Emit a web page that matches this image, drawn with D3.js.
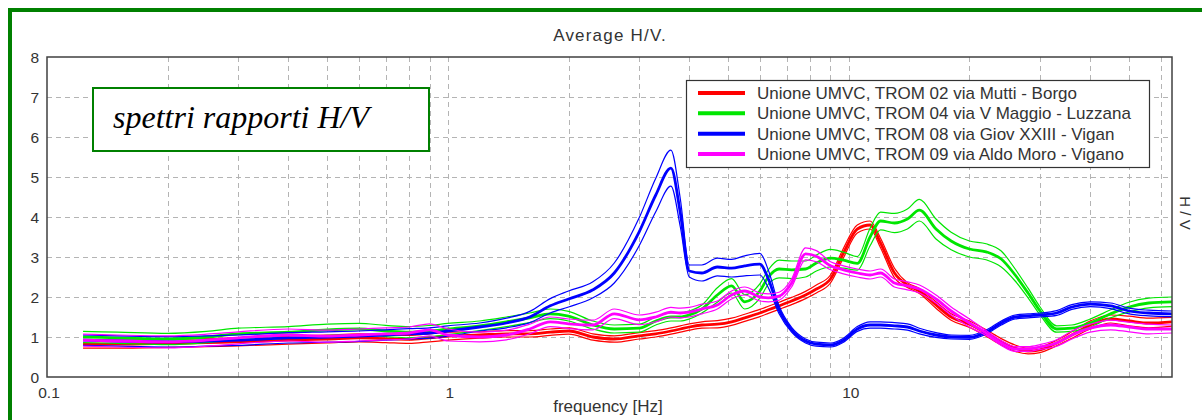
<!DOCTYPE html>
<html>
<head>
<meta charset="utf-8">
<script src="https://cdn.jsdelivr.net/npm/d3@7/dist/d3.min.js"></script>
<style>
  html, body { margin: 0; padding: 0; background: #fff; }
  svg { display: block; }
  text { font-family: "Liberation Sans", Arial, sans-serif; fill: #333; }
</style>
</head>
<body>
<svg id="chart" width="1202" height="420"></svg>
<script>
// Frequency samples (Hz) shared by every station
const freqs = [0.123,0.15,0.2,0.25,0.3,0.4,0.5,0.6,0.7,0.8,0.9,1.0,1.2,1.4,1.6,1.8,2.0,2.3,2.6,3.0,
  3.3,3.6,3.8,4.0,4.3,4.7,5.1,5.5,6.0,6.3,6.7,7.2,7.8,8.3,9.0,9.7,10.5,11.3,12,13,
  14,15,16.5,18,20,22,24,26,28,30,33,36,40,45,50,56,64];

// Average H/V ratio and standard deviation per station
const meanTrom02 = [0.82,0.82,0.84,0.86,0.88,0.92,0.95,0.98,0.96,0.94,0.98,1.02,1.05,1.08,1.08,1.12,1.15,1.0,0.95,1.03,
  1.08,1.15,1.2,1.25,1.3,1.32,1.38,1.48,1.6,1.68,1.78,1.9,2.05,2.2,2.45,3.1,3.7,3.8,3.35,2.6,
  2.3,2.15,1.8,1.5,1.32,1.1,0.88,0.72,0.65,0.68,0.85,1.05,1.3,1.45,1.4,1.35,1.38];
const sdTrom02 = [0.1,0.1,0.1,0.1,0.1,0.1,0.1,0.1,0.1,0.1,0.1,0.1,0.08,0.08,0.08,0.08,0.08,0.08,0.08,0.08,
  0.08,0.08,0.08,0.08,0.08,0.09,0.09,0.09,0.09,0.09,0.09,0.09,0.09,0.1,0.1,0.12,0.1,0.1,0.12,0.12,
  0.06,0.06,0.08,0.08,0.08,0.08,0.08,0.08,0.07,0.07,0.07,0.08,0.1,0.1,0.12,0.12,0.11];

const meanTrom04 = [1.0,0.98,0.95,1.0,1.08,1.12,1.18,1.2,1.15,1.12,1.15,1.2,1.28,1.38,1.48,1.58,1.52,1.3,1.2,1.22,
  1.4,1.5,1.5,1.55,1.7,2.05,2.28,1.88,2.15,2.5,2.7,2.68,2.7,2.85,2.97,2.92,2.84,3.5,3.9,3.85,
  3.95,4.17,3.7,3.4,3.2,3.13,2.95,2.55,2.1,1.65,1.2,1.22,1.35,1.58,1.75,1.85,1.88];
const sdTrom04 = [0.14,0.14,0.14,0.14,0.14,0.14,0.14,0.14,0.14,0.14,0.14,0.14,0.12,0.12,0.12,0.12,0.12,0.1,0.1,0.1,
  0.1,0.1,0.1,0.1,0.1,0.18,0.18,0.18,0.18,0.18,0.22,0.22,0.2,0.2,0.22,0.2,0.17,0.22,0.22,0.24,
  0.25,0.27,0.25,0.22,0.2,0.2,0.2,0.15,0.12,0.1,0.08,0.08,0.1,0.1,0.12,0.12,0.12];

const meanTrom08 = [0.92,0.9,0.88,0.9,0.92,0.98,1.0,1.02,1.05,1.08,1.1,1.15,1.25,1.35,1.5,1.78,1.95,2.18,2.6,3.63,
  4.55,5.22,4.1,2.65,2.6,2.75,2.72,2.78,2.82,2.45,1.68,1.18,0.9,0.82,0.8,0.92,1.2,1.3,1.3,1.28,
  1.25,1.15,1.05,1.0,0.99,1.12,1.35,1.5,1.53,1.55,1.6,1.75,1.82,1.78,1.65,1.6,1.58];
const sdTrom08 = [0.13,0.13,0.13,0.13,0.13,0.13,0.13,0.13,0.13,0.13,0.13,0.13,0.1,0.12,0.14,0.18,0.2,0.2,0.25,0.35,
  0.42,0.45,0.35,0.15,0.2,0.22,0.22,0.25,0.27,0.22,0.1,0.06,0.05,0.05,0.05,0.05,0.06,0.08,0.08,0.08,
  0.08,0.07,0.06,0.05,0.05,0.05,0.05,0.05,0.05,0.05,0.06,0.06,0.06,0.07,0.07,0.07,0.07];

const meanTrom09 = [0.92,0.9,0.88,0.92,0.98,1.05,1.02,1.05,1.08,1.1,1.18,1.05,1.0,1.05,1.2,1.38,1.33,1.3,1.58,1.43,
  1.5,1.62,1.6,1.62,1.7,1.8,2.05,2.15,2.0,1.98,2.02,2.35,3.08,3.02,2.78,2.68,2.6,2.55,2.6,2.35,
  2.28,2.2,1.95,1.65,1.35,1.1,0.85,0.7,0.7,0.75,0.85,1.05,1.22,1.3,1.25,1.2,1.2];
const sdTrom09 = [0.15,0.15,0.15,0.15,0.15,0.15,0.15,0.15,0.15,0.15,0.15,0.15,0.12,0.12,0.12,0.12,0.12,0.12,0.12,0.12,
  0.12,0.12,0.12,0.12,0.12,0.1,0.1,0.1,0.1,0.1,0.1,0.1,0.15,0.14,0.1,0.1,0.1,0.1,0.1,0.1,
  0.1,0.1,0.1,0.1,0.1,0.06,0.06,0.06,0.06,0.06,0.08,0.1,0.1,0.12,0.12,0.12,0.1];

const stationNames = [
  "Unione UMVC, TROM 02 via Mutti - Borgo",
  "Unione UMVC, TROM 04 via V Maggio - Luzzana",
  "Unione UMVC, TROM 08 via Giov XXIII - Vigan",
  "Unione UMVC, TROM 09 via Aldo Moro - Vigano"
];
const stationColors = ["#ff0000", "#00e600", "#0000ff", "#ff00ff"];
const stationMeans = [meanTrom02, meanTrom04, meanTrom08, meanTrom09];
const stationSds = [sdTrom02, sdTrom04, sdTrom08, sdTrom09];

const yTicks = [0,1,2,3,4,5,6,7,8];
const xTickLabels = [0.1, 1, 10];
const xGrid = [0.2,0.3,0.4,0.5,0.6,0.7,0.8,0.9,1,2,3,4,5,6,7,8,9,10,20,30,40,50,60];

const chartTitle = "Average H/V.";
const xTitle = "frequency [Hz]";
const yTitle = "H / V";
const noteText = "spettri rapporti H/V";

const svg = d3.select("#chart");
const W = 1202, H = 420;
const plot = { left: 47, right: 1172, top: 57, bottom: 377 };

svg.append("rect").attr("width", W).attr("height", H).attr("fill", "#fff");

// outer frame
svg.append("rect")
  .attr("x", 10).attr("y", 10).attr("width", W).attr("height", H)
  .attr("fill", "none").attr("stroke", "#008000").attr("stroke-width", 4);

const x = d3.scaleLog().domain([0.1, 64]).range([plot.left, plot.right]);
const y = d3.scaleLinear().domain([0, 8]).range([plot.bottom, plot.top]);

// grid
const grid = svg.append("g").attr("stroke", "#b4b4b4").attr("stroke-width", 1)
  .attr("stroke-dasharray", "5,4");
grid.selectAll("line.v").data(xGrid).join("line")
  .attr("x1", d => Math.round(x(d)) + 0.5).attr("x2", d => Math.round(x(d)) + 0.5)
  .attr("y1", plot.top).attr("y2", plot.bottom);
grid.selectAll("line.h").data(yTicks.filter(d => d > 0 && d < 8)).join("line")
  .attr("x1", plot.left).attr("x2", plot.right)
  .attr("y1", d => Math.round(y(d)) + 0.5).attr("y2", d => Math.round(y(d)) + 0.5);

// station curves: mean (thick) with mean ± standard deviation (thin)
svg.append("clipPath").attr("id", "plotclip").append("rect")
  .attr("x", plot.left).attr("y", plot.top)
  .attr("width", plot.right - plot.left).attr("height", plot.bottom - plot.top);

const line = d3.line()
  .x(d => x(d[0])).y(d => y(d[1]))
  .curve(d3.curveMonotoneX);

const curves = svg.append("g").attr("clip-path", "url(#plotclip)").attr("fill", "none");
stationMeans.forEach((means, i) => {
  const sds = stationSds[i];
  const color = stationColors[i];
  const upper = freqs.map((f, k) => [f, means[k] + sds[k]]);
  const lower = freqs.map((f, k) => [f, means[k] - sds[k]]);
  const mid = freqs.map((f, k) => [f, means[k]]);
  curves.append("path").attr("d", line(upper)).attr("stroke", color).attr("stroke-width", 1.2);
  curves.append("path").attr("d", line(lower)).attr("stroke", color).attr("stroke-width", 1.2);
  curves.append("path").attr("d", line(mid)).attr("stroke", color).attr("stroke-width", 2.8);
});

// plot frame
svg.append("rect")
  .attr("x", plot.left).attr("y", plot.top)
  .attr("width", plot.right - plot.left).attr("height", plot.bottom - plot.top)
  .attr("fill", "none").attr("stroke", "#404040").attr("stroke-width", 1.5);

// y tick labels
svg.append("g").selectAll("text").data(yTicks).join("text")
  .attr("x", 39).attr("y", d => y(d) + 5.5)
  .attr("text-anchor", "end").attr("font-size", 15.5)
  .text(d => d);

// x tick labels
svg.append("g").selectAll("text").data(xTickLabels).join("text")
  .attr("x", d => x(d) + 2).attr("y", 397.5)
  .attr("text-anchor", "middle").attr("font-size", 15.5)
  .text(d => d);

// titles
svg.append("text").attr("x", 610).attr("y", 41).attr("text-anchor", "middle")
  .attr("font-size", 17).attr("letter-spacing", 1.2).text(chartTitle);
svg.append("text").attr("x", 608).attr("y", 412).attr("text-anchor", "middle")
  .attr("font-size", 17).text(xTitle);
svg.append("text").attr("transform", "translate(1180,213) rotate(90)")
  .attr("text-anchor", "middle").attr("font-size", 15).text(yTitle);

// legend
const legend = svg.append("g");
legend.append("rect").attr("x", 686.5).attr("y", 80.5).attr("width", 463).attr("height", 87)
  .attr("fill", "#fff").attr("stroke", "#333").attr("stroke-width", 1.2);
const legendRow = d3.scaleLinear().domain([0, 3]).range([93, 154]);
stationNames.forEach((name, i) => {
  legend.append("line")
    .attr("x1", 698).attr("x2", 745)
    .attr("y1", legendRow(i)).attr("y2", legendRow(i))
    .attr("stroke", stationColors[i]).attr("stroke-width", 4);
  legend.append("text").attr("x", 757).attr("y", legendRow(i) + 6)
    .attr("font-size", 17).attr("fill", "#222").text(name);
});

// annotation box
svg.append("rect").attr("x", 93).attr("y", 88).attr("width", 336).attr("height", 63)
  .attr("fill", "#fff").attr("stroke", "#008000").attr("stroke-width", 2);
svg.append("text").attr("x", 113).attr("y", 128)
  .style("font-family", "'Liberation Serif', 'Times New Roman', serif")
  .style("font-style", "italic").attr("font-size", 32).style("fill", "#000")
  .text(noteText);
</script>
</body>
</html>
